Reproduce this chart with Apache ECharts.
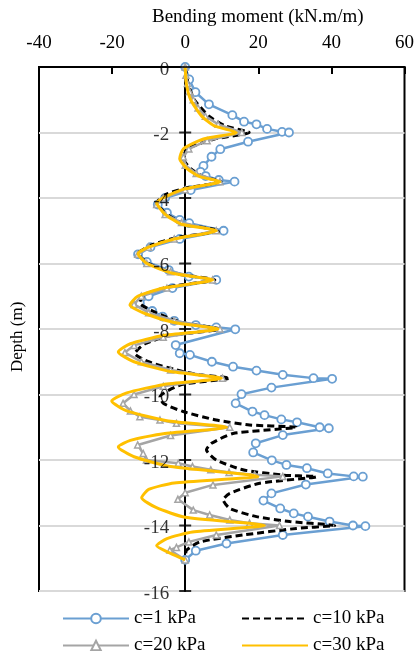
<!DOCTYPE html>
<html>
<head>
<meta charset="utf-8">
<script src="https://cdn.jsdelivr.net/npm/echarts@6/dist/echarts.min.js"></script>
<style>html,body{margin:0;padding:0;background:#fff;}#c{width:417px;height:651px;}</style>
</head>
<body>
<div id="c"></div>
<script>
// x-axis ticks and depth ticks
var xTicks = [-40, -20, 0, 20, 40, 60];
var depthTicks = [0, -2, -4, -6, -8, -10, -12, -14, -16];

// c = 1 kPa
var c1Depth  = [0,-0.38,-0.77,-1.14,-1.47,-1.67,-1.75,-1.89,-1.98,-2.0,-2.28,-2.51,-2.74,-3.02,-3.2,-3.33,-3.45,-3.5,-3.76,-4.0,-4.2,-4.45,-4.67,-4.77,-5.0,-5.25,-5.5,-5.72,-5.95,-6.2,-6.4,-6.5,-6.75,-7.0,-7.22,-7.45,-7.62,-7.75,-7.88,-7.95,-8.01,-8.49,-8.74,-8.79,-9.0,-9.15,-9.27,-9.4,-9.5,-9.52,-9.79,-9.99,-10.27,-10.52,-10.63,-10.76,-10.85,-11.0,-11.03,-11.24,-11.49,-11.77,-12.01,-12.15,-12.25,-12.41,-12.5,-12.51,-12.75,-13.02,-13.24,-13.48,-13.63,-13.73,-13.88,-14.0,-14.02,-14.29,-14.55,-14.77,-15.05];
var c1Moment = [0,1.1,2.8,6.5,12.9,16.1,19.5,22.4,26.5,28.4,17.2,9.6,7.2,5.0,4.2,5.6,9.2,13.5,1.5,-5.5,-7.5,-5.0,-1.5,1.1,10.5,-1.5,-9.5,-12.9,-10.5,-4.5,1.0,8.5,-3.5,-10.0,-12.4,-9.0,-6.2,-3.0,2.9,8.5,13.7,-2.6,-1.5,1.3,7.3,13.1,19.5,26.7,35.1,40.2,23.6,15.4,13.8,18.4,21.7,26.3,30.6,36.8,39.3,26.7,19.3,18.6,23.7,27.7,33.3,39.0,46.1,48.6,33.0,23.6,21.4,26.0,29.7,33.6,39.5,45.9,49.3,26.7,11.3,2.9,0];

// c = 10 kPa
var c10Depth  = [0,-0.5,-1.0,-1.5,-1.8,-2.0,-2.2,-2.5,-2.8,-3.1,-3.35,-3.5,-3.7,-3.9,-4.15,-4.5,-4.8,-5.0,-5.2,-5.45,-5.7,-6.0,-6.3,-6.5,-6.7,-6.95,-7.2,-7.5,-7.8,-8.0,-8.2,-8.45,-8.75,-9.0,-9.25,-9.4,-9.5,-9.7,-10.07,-10.27,-10.52,-10.78,-10.93,-11.0,-11.19,-11.49,-11.69,-12.0,-12.3,-12.46,-12.51,-12.71,-13.02,-13.22,-13.48,-13.73,-13.88,-14.0,-14.09,-14.29,-14.5,-14.75,-14.95];
var c10Moment = [0,0.8,2.5,6.5,11,17.5,8,0.5,-0.5,1.5,5,9.8,0,-5.5,-7.8,-5,0,9.5,-2,-9.5,-12.9,-10,-3,8.1,-4,-11,-12.5,-8,-1,9.5,-4,-11,-13.8,-10,-2.4,4,12.2,-1,-6.9,-6.0,-0.6,8.5,17.6,30.4,13.1,7.2,5.8,8.5,15.8,26.7,35.9,20.4,12.2,10.4,12.2,19.5,28.6,40.9,30.4,15.8,4,0.4,0];

// c = 20 kPa
var c20Depth  = [0,-0.25,-0.5,-0.75,-1.0,-1.25,-1.5,-1.75,-2.0,-2.25,-2.5,-2.75,-3.0,-3.25,-3.5,-3.75,-4.0,-4.2,-4.5,-4.75,-5.0,-5.25,-5.5,-5.72,-6.0,-6.25,-6.5,-6.75,-7.0,-7.25,-7.5,-7.75,-8.0,-8.25,-8.5,-8.72,-9.0,-9.25,-9.5,-9.75,-10.0,-10.27,-10.5,-10.68,-10.78,-10.88,-11.0,-11.25,-11.54,-11.8,-12.0,-12.1,-12.2,-12.3,-12.38,-12.45,-12.5,-12.76,-13.0,-13.2,-13.53,-13.68,-13.83,-13.93,-14.0,-14.29,-14.5,-14.67,-14.75,-15.05];
var c20Moment = [0,0.2,0.6,1.2,2.2,3.5,5.5,9,15.5,6,1,-0.5,0,3,9.5,0,-6,-7.8,-5.5,-1,8.5,-3,-10,-13,-10.5,-4,7.5,-5,-12,-14,-10,-3,9.5,-6,-14,-16.5,-12,-4,10.2,-6,-14,-17,-15,-12.4,-6.9,-2.4,12.2,-4,-13,-11.5,-10.6,-1.9,2,7,12,19,26.7,7.6,0,-2,2.2,6.7,12.2,17.6,25.8,8.5,1,-2.4,-4.2,0];

// c = 30 kPa
var c30Depth  = [0,-0.5,-1.0,-1.5,-1.8,-2.0,-2.2,-2.5,-2.8,-3.1,-3.35,-3.5,-3.75,-4.15,-4.5,-4.8,-5.0,-5.25,-5.5,-5.7,-6.0,-6.3,-6.5,-6.75,-7.0,-7.27,-7.55,-7.8,-8.0,-8.2,-8.45,-8.7,-9.0,-9.3,-9.5,-9.7,-9.95,-10.2,-10.5,-10.8,-11.0,-11.2,-11.4,-11.6,-11.9,-12.2,-12.5,-12.7,-12.9,-13.15,-13.45,-13.75,-14.0,-14.2,-14.4,-14.62,-14.85,-15.05];
var c30Moment = [0,0.3,1.5,4.5,8,14,5,-0.5,-1.5,0.5,4,9.5,-1,-7.8,-5.5,-1,8.5,-3,-10,-12.9,-10.5,-3.5,7.5,-6,-13,-15.1,-10.5,-3,9,-6,-15,-18.3,-14,-4,9.9,-6,-16,-20.1,-16,-5,11.3,-6,-15,-18.3,-14,-4,19.9,-3,-10,-11.9,-8,0,21.7,2,-5,-7.8,-4,0];

function pairs(m, d) { return m.map(function (v, i) { return [v, d[i]]; }); }

var font = 'Liberation Serif';
var chart = echarts.init(document.getElementById('c'));
var names = ['c=1 kPa', 'c=10 kPa', 'c=20 kPa', 'c=30 kPa'];
var legendPos = [[57, 604], [236, 604], [57, 631], [236, 631]];
var legends = names.map(function (n, i) {
  var l = {
    data: [n], left: legendPos[i][0], top: legendPos[i][1],
    itemWidth: 66, itemHeight: 12, itemGap: 6,
    textStyle: { fontFamily: font, fontSize: 19, color: '#000' }
  };
  if (i === 1 || i === 3) {
    l.itemStyle = { color: 'rgba(0,0,0,0)', borderColor: 'rgba(0,0,0,0)', borderWidth: 0 };
  }
  return l;
});

chart.setOption({
  animation: false,
  backgroundColor: '#fff',
  grid: { left: 39, right: 12, top: 67, bottom: 60, show: true, borderColor: '#000', borderWidth: 2, backgroundColor: 'transparent' },
  legend: legends,
  graphic: [
    { type: 'text', left: 152, top: 8, style: { text: 'Bending moment (kN.m/m)', fontFamily: font, fontSize: 19, fill: '#000' } },
    { type: 'text', x: 9, y: 372, rotation: Math.PI / 2, style: { text: 'Depth (m)', fontFamily: font, fontSize: 17, fill: '#000' } }
  ],
  xAxis: {
    type: 'value', position: 'top', min: xTicks[0], max: xTicks[xTicks.length - 1], interval: 20,
    axisLine: { show: true, onZero: false, lineStyle: { color: '#000', width: 2 } },
    axisTick: { show: true, inside: true, length: 7, lineStyle: { color: '#000', width: 2 } },
    axisLabel: { margin: 14, fontFamily: font, fontSize: 19, color: '#000' },
    splitLine: { show: false }
  },
  yAxis: {
    type: 'value', min: depthTicks[depthTicks.length - 1], max: depthTicks[0], interval: 2,
    axisLine: { show: true, onZero: true, lineStyle: { color: '#000', width: 2 } },
    axisTick: { show: false },
    axisLabel: { show: false },
    splitLine: { show: true, lineStyle: { color: '#d9d9d9', width: 2 } }
  },
  series: [
    {
      name: names[0], type: 'line', data: pairs(c1Moment, c1Depth), z: 2,
      symbol: 'circle', symbolSize: 8, showAllSymbol: true,
      lineStyle: { color: '#6a9fd2', width: 2.5 },
      itemStyle: { color: '#fff', borderColor: '#6a9fd2', borderWidth: 1.8 }
    },
    {
      name: names[1], type: 'line', data: pairs(c10Moment, c10Depth), z: 3,
      symbol: 'none', smooth: 0.2,
      lineStyle: { color: '#000', width: 3, type: [7, 4] },
      itemStyle: { color: '#000' }
    },
    {
      name: names[2], type: 'line', data: pairs(c20Moment, c20Depth), z: 4,
      symbol: 'triangle', symbolSize: 6, showAllSymbol: true,
      lineStyle: { color: '#a5a5a5', width: 2.5 },
      itemStyle: { color: '#fff', borderColor: '#a5a5a5', borderWidth: 1.5 }
    },
    {
      name: names[3], type: 'line', data: pairs(c30Moment, c30Depth), z: 5,
      symbol: 'none', smooth: 0.2,
      lineStyle: { color: '#ffc000', width: 3 },
      itemStyle: { color: '#ffc000' }
    },
    {
      name: 'ticks', type: 'scatter', z: 6, silent: true,
      data: depthTicks.map(function (d) { return [0, d]; }),
      symbol: 'rect', symbolSize: [12, 2], itemStyle: { color: '#000' },
      label: {
        show: true, position: 'left', distance: 10, offset: [0, 3],
        fontFamily: font, fontSize: 19, color: '#000',
        formatter: function (p) { return String(p.value[1]); }
      }
    }
  ]
});
</script>
</body>
</html>
